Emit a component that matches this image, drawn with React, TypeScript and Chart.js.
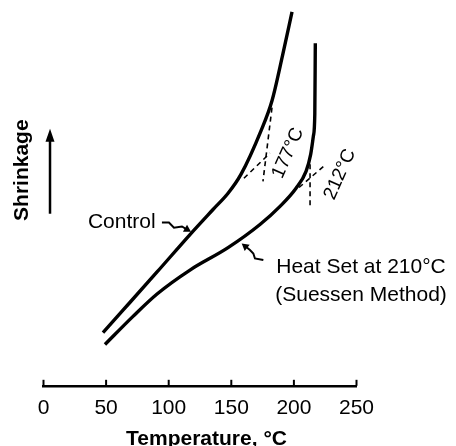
import { useEffect, useRef } from 'react';
import { Chart, registerables } from 'chart.js';

Chart.register(...registerables);

// ---- data (shrinkage in arbitrary units 0-100) ----
const xTickValues = [0, 50, 100, 150, 200, 250];

const controlTemp = [47.5, 63.5, 90.7, 117.0, 135.4, 147.4, 157.7, 173.7, 182.5, 190.9, 198.5];
const controlShrink = [13.8, 19.6, 29.5, 39.2, 45.7, 49.9, 54.8, 66.1, 73.9, 85.6, 96.9];

const heatSetTemp = [49.1, 71.5, 90.7, 117.0, 147.4, 172.9, 188.9, 201.7, 209.7, 213.4, 215.6, 216.7, 217.1];
const heatSetShrink = [10.7, 18.0, 23.8, 30.0, 35.8, 41.8, 46.5, 51.2, 55.6, 60.0, 64.8, 70.5, 88.8];

// tangent constructions (onset temperatures)
const controlTangentSteepTemp = [182.5, 175.3];
const controlTangentSteepShrink = [72.1, 53.0];
const controlTangentLowTemp = [160.1, 180.9];
const controlTangentLowShrink = [53.8, 60.3];
const heatTangentSteepTemp = [212.9, 212.9];
const heatTangentSteepShrink = [57.4, 46.0];
const heatTangentLowTemp = [204.1, 225.6];
const heatTangentLowShrink = [51.4, 57.4];

const onsetLabels = ['177°C', '212°C'];
const seriesLabels = ['Control', 'Heat Set at 210°C', '(Suessen Method)'];
const xTitle = 'Temperature, °C';
const yTitle = 'Shrinkage';

const pts = (xs: number[], ys: number[]) => xs.map((x, i) => ({ x, y: ys[i] }));

const FONT = "'Liberation Sans', Arial, Helvetica, sans-serif";

const annotations = {
  id: 'annotations',
  afterDraw(chart: any) {
    const ctx = chart.ctx as CanvasRenderingContext2D;
    const xs = chart.scales.x;
    const ys = chart.scales.y;
    const ca = chart.chartArea;
    const P = (x: number, y: number) => [xs.getPixelForValue(x), ys.getPixelForValue(y)];
    ctx.save();
    ctx.fillStyle = '#000';
    ctx.strokeStyle = '#000';

    // upward tick marks on the x axis
    ctx.lineWidth = 2;
    xs.ticks.forEach((t: any) => {
      const px = xs.getPixelForValue(t.value);
      ctx.beginPath();
      ctx.moveTo(px, ca.bottom);
      ctx.lineTo(px, ca.bottom - 6);
      ctx.stroke();
    });

    const arrowHead = (from: number[], to: number[], len: number, half: number) => {
      const ang = Math.atan2(to[1] - from[1], to[0] - from[0]);
      ctx.beginPath();
      ctx.moveTo(to[0], to[1]);
      ctx.lineTo(to[0] - len * Math.cos(ang) + half * Math.sin(ang), to[1] - len * Math.sin(ang) - half * Math.cos(ang));
      ctx.lineTo(to[0] - len * Math.cos(ang) - half * Math.sin(ang), to[1] - len * Math.sin(ang) + half * Math.cos(ang));
      ctx.closePath();
      ctx.fill();
    };

    const leader = (path: number[][]) => {
      const p = path.map(([x, y]) => P(x, y));
      ctx.lineWidth = 2;
      ctx.beginPath();
      ctx.moveTo(p[0][0], p[0][1]);
      for (let i = 1; i < p.length - 1; i++) ctx.lineTo(p[i][0], p[i][1]);
      const last = p[p.length - 1];
      const prev = p[p.length - 2];
      const ang = Math.atan2(last[1] - prev[1], last[0] - prev[0]);
      ctx.lineTo(last[0] - 5 * Math.cos(ang), last[1] - 5 * Math.sin(ang));
      ctx.stroke();
      arrowHead(prev, last, 7, 4);
    };

    // leaders
    leader([[94.6, 42.3], [100.2, 42.3], [104.2, 41.0], [110.6, 41.3], [117.8, 39.9]]);
    leader([[175.6, 32.6], [168.9, 33.0], [167.6, 34.3], [164.9, 35.2], [158.3, 36.9]]);

    // series labels
    ctx.font = `21px ${FONT}`;
    ctx.textBaseline = 'middle';
    ctx.textAlign = 'left';
    let [lx, ly] = P(35.5, 42.4);
    ctx.fillText(seriesLabels[0], lx, ly);
    ctx.textAlign = 'center';
    [lx, ly] = P(253.6, 30.7);
    ctx.fillText(seriesLabels[1], lx, ly);
    [lx, ly] = P(253.6, 23.5);
    ctx.fillText(seriesLabels[2], lx, ly);

    // onset temperature labels (rotated)
    const rotText = (s: string, x: number, y: number, deg: number) => {
      const [px, py] = P(x, y);
      ctx.save();
      ctx.translate(px, py);
      ctx.rotate((deg * Math.PI) / 180);
      ctx.fillText(s, 0, 0);
      ctx.restore();
    };
    ctx.font = `19px ${FONT}`;
    rotText(onsetLabels[0], 195.3, 60.3, -66);
    rotText(onsetLabels[1], 236.8, 54.8, -66);

    // y title + arrow
    ctx.font = `bold 21px ${FONT}`;
    rotText(yTitle, -17.2, 55.9, -90);
    const a0 = P(5.2, 44.6);
    const a1 = P(5.2, 66.6);
    ctx.lineWidth = 2.5;
    ctx.beginPath();
    ctx.moveTo(a0[0], a0[1]);
    ctx.lineTo(a1[0], a1[1] + 10);
    ctx.stroke();
    arrowHead(a0, a1, 13, 4.5);

    // x title
    const [tx, ty] = P(130.2, -13.8);
    ctx.fillText(xTitle, tx, ty);

    ctx.restore();
  },
};

export default function App() {
  const ref = useRef<HTMLCanvasElement>(null);
  useEffect(() => {
    if (!ref.current) return;
    const curve = { borderColor: '#000', borderWidth: 3.4, pointRadius: 0, showLine: true, cubicInterpolationMode: 'monotone', fill: false };
    const dash = { borderColor: '#000', borderWidth: 1.6, pointRadius: 0, showLine: true, borderDash: [5, 4], fill: false };
    const chart = new Chart(ref.current, {
      type: 'scatter',
      data: {
        datasets: [
          { label: 'Control', data: pts(controlTemp, controlShrink), ...curve },
          { label: 'Heat Set', data: pts(heatSetTemp, heatSetShrink), ...curve },
          { label: 't1', data: pts(controlTangentSteepTemp, controlTangentSteepShrink), ...dash },
          { label: 't2', data: pts(controlTangentLowTemp, controlTangentLowShrink), ...dash },
          { label: 't3', data: pts(heatTangentSteepTemp, heatTangentSteepShrink), ...dash },
          { label: 't4', data: pts(heatTangentLowTemp, heatTangentLowShrink), ...dash },
        ],
      },
      options: {
        responsive: false,
        animation: false,
        layout: { padding: { left: 43.5, right: 99.5, top: 0, bottom: 23 } },
        plugins: { legend: { display: false }, tooltip: { enabled: false } },
        scales: {
          x: {
            type: 'linear',
            min: 0,
            max: 250,
            afterBuildTicks: (s: any) => { s.ticks = xTickValues.map((v) => ({ value: v })); },
            ticks: { font: { family: FONT, size: 21 }, color: '#000', padding: 2 },
            grid: { display: false },
            border: { display: true, color: '#000', width: 2.5 },
          },
          y: { type: 'linear', min: 0, max: 100, display: false },
        },
      },
      plugins: [annotations],
    } as any);
    return () => chart.destroy();
  }, []);
  return (
    <div style={{ position: 'absolute', left: 0, top: 0, width: 456, height: 446, background: '#fff' }}>
      <canvas ref={ref} width={456} height={446} />
    </div>
  );
}
